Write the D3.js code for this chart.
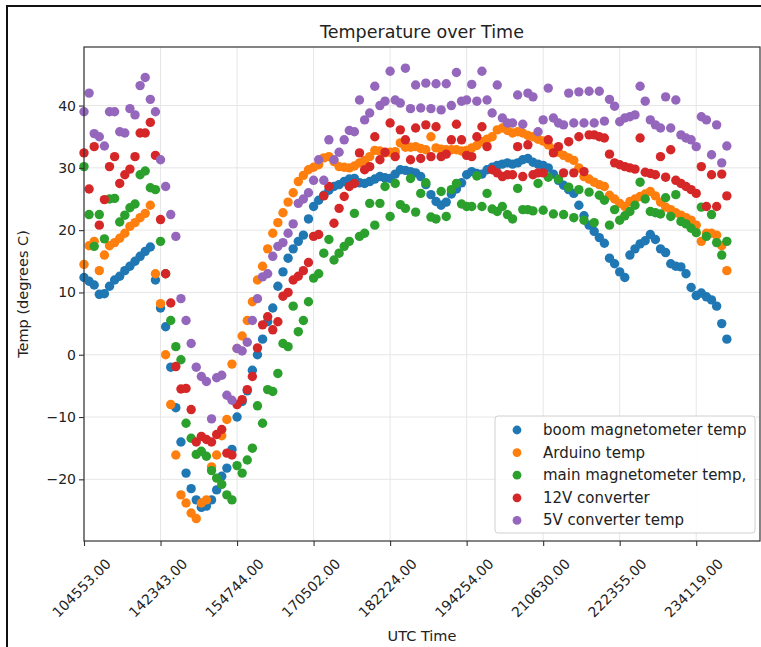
<!DOCTYPE html>
<meta charset="utf-8">
<style>
body { margin: 0; background: #fff; }
text { font-family: "DejaVu Sans", sans-serif; fill: #222; }
.grid line { stroke: #e6e6e6; stroke-width: 1; }
</style>
<body>
<svg width="761" height="647"></svg>
<script src="https://cdn.jsdelivr.net/npm/d3@7"></script>
<script>

// one sample every index, a tick label every 15th sample
var tickLabels = ["104553.00", "142343.00", "154744.00", "170502.00", "182224.00",
                  "194254.00", "210630.00", "222355.00", "234119.00"];
var tickEvery = 15;

var seriesNames = ["boom magnetometer temp", "Arduino temp", "main magnetometer temp,",
                   "12V converter", "5V converter temp"];
var seriesColors = ["#1f77b4", "#ff7f0e", "#2ca02c", "#d62728", "#9467bd"];

var boom = [
  12.4, 11.8, 11.2, 9.7, 9.8, 11, 12, 12.6, 13.5, 14.2,
  15, 15.8, 16.6, 17.3, 12, 7.5, 4.5, -2, -8.5, -14,
  -19, -21.5, -23.3, -24.5, -24.3, -23.3, -21.7, -19.5, -18.2, -15.2,
  -10, -7.5, -5.8, -2.5, 0, 2.5, 5.3, 7.5, 11, 13.3,
  15.5, 17, 18.2, 19.2, 21.8, 23.8, 24.8, 25.6, 26.4, 27,
  27.3, 27.8, 28.2, 28.3, 27.6, 27.5, 27.8, 28.2, 28.6, 28.4,
  28.3, 29, 29.7, 29.6, 29.4, 29.2, 28.6, 27.3, 25.7, 24.6,
  24, 24.5, 25.8, 26.6, 27.6, 28.9, 29.4, 29.1, 29, 29.7,
  30.1, 30.4, 30.6, 30.8, 30.6, 30.8, 31.3, 31.5, 30.9, 30.6,
  30.4, 30, 29, 28, 27.2, 26.5, 25.9, 24, 22.3, 20.8,
  19.8, 18.8, 17.9, 15.5, 14.6, 13.3, 12.4, 16, 17, 17.8,
  18.3, 19.3, 18.5, 17, 16.4, 14.6, 14.2, 14.1, 13, 10.8,
  9.5, 9.9, 9.3, 8.8, 7.8, 5, 2.5
];

var arduino = [
  14.5, 17.5, 18.2, 13.5, 16, 17.5, 18, 18.7, 19.5, 20.6,
  21.2, 22, 22.7, 24, 13, 8.2, 0, -8, -16.1, -22.5,
  -23.8, -25.4, -26.3, -23.8, -23.3, -18, -16.1, -13, -10.4, -1.5,
  1, 3, 5.5, 8.5, 12, 14.2, 17, 19.5, 21.2, 22.8,
  24.5, 26, 27.8, 28.8, 29.7, 30.1, 30.5, 31.6, 31.8, 31,
  30.2, 30.1, 30, 30.3, 30.8, 31.2, 31.8, 32.8, 32.7, 32.4,
  32.5, 32.6, 34, 33.3, 33.3, 33.4, 33.1, 32.9, 35, 33.2,
  33, 32.9, 32.9, 32.9, 32.7, 32.8, 33.2, 33.6, 34.2, 34.6,
  35, 36.1, 36.4, 36, 35.6, 35.8, 35.6, 35.2, 35, 34.6,
  34.3, 33.7, 33, 32.5, 32, 31.6, 31.2, 30, 28.6, 28.2,
  27.7, 27.3, 27, 25.6, 25, 24.3, 23.8, 24.6, 25, 25.4,
  25.8, 26.2, 25.5, 24.5, 23.7, 23.3, 22.8, 22.4, 22, 21.6,
  20.8, 18.2, 19.5, 19.5, 19.2, 17.5, 13.5
];

var mainMag = [
  30.2, 22.5, 17.4, 22.5, 18.6, 25, 25.1, 21.3, 22.4, 23.6,
  24.2, 28.9, 29.5, 26.8, 26.5, 18.2, 13, 5.5, 1.3, -0.8,
  -11, -13.4, -16, -15.5, -16.3, -18.6, -19.8, -20.8, -22.5, -23.3,
  -17.8, -19, -16.9, -15, -8.2, -11, -5.6, -5.9, -3, 1.8,
  1.3, 7.8, 3.7, 5.5, 8.5, 12.3, 13, 16.3, 18.5, 15.2,
  16.3, 17.4, 18.2, 22.7, 19, 19.5, 24.3, 20.8, 24.3, 27,
  22.2, 27.5, 24.1, 23.5, 28.3, 22.9, 25.9, 27.6, 22.1, 21.8,
  26.2, 22.2, 26.5, 27.5, 24.2, 23.8, 23.8, 28.7, 23.8, 25.9,
  23.4, 23, 23.8, 22.5, 21.8, 26.7, 23.3, 23.3, 23.1, 27.5,
  23.2, 28.5, 22.6, 28.2, 22.5, 26.9, 22, 26.5, 21.6, 26.1,
  21.2, 25.6, 24.8, 20.8, 23.3, 21.6, 22.3, 23, 24, 27.7,
  25, 23, 22.8, 22.6, 25.2, 22.2, 25.7, 21.4, 21, 20.3,
  19.6, 23.7, 19, 22.5, 18, 16, 18.2
];

var conv12 = [
  32.4, 26.6, 33.4, 20.8, 24.9, 30.2, 31.8, 27.5, 28.9, 29.8,
  31.8, 35.6, 35.6, 37.3, 32, 21.7, 13, 8.3, -1.9, -5.5,
  -5.4, -8.8, -14, -13.1, -13.6, -14, -12.8, -12, -15.8, -16.1,
  -8, -7.2, -5.6, -3.5, 1.1, 4.8, 6.1, 4, 5.3, 9.4,
  10, 12, 12.6, 13.5, 14.8, 19, 19.3, 25.5, 27, 21.1,
  23.5, 25.4, 27, 27.5, 32.4, 29.7, 30.2, 35, 31.3, 32.5,
  37.2, 31.8, 36.1, 34.5, 31.3, 36.4, 31.5, 36.9, 31.8, 36.6,
  31.8, 32.2, 34.5, 37, 34.5, 32, 31.8, 35, 36.6, 33.4,
  29.7, 29.2, 28.6, 28.9, 28.9, 33.4, 28.6, 33.7, 28.9, 29.2,
  29.2, 34.5, 32.4, 33.4, 29.2, 34.2, 29.2, 35, 29.4, 35.3,
  35.3, 35, 34.8, 32.2, 30.8, 30.5, 30.2, 30, 29.8, 34.8,
  29.3, 29.1, 28.9, 31.8, 28.5, 32.9, 28, 27.5, 27, 26.5,
  25.9, 30.2, 23.8, 28.9, 23.8, 29, 25.5
];

var conv5 = [
  39, 42, 35.5, 35, 33.5, 39, 39, 35.8, 35.6, 39.5,
  38.5, 43.2, 44.5, 41, 39, 31.3, 27, 22.5, 19, 9,
  5.5, 1.8, -2, -3.5, -4.3, -10.3, -3.7, -3.3, -6.5, -7.3,
  1, 0.6, 2, 5.5, 9, 12.5, 13, 15.8, 17.4, 18,
  19.5, 21, 24.3, 25, 26, 28, 31.3, 28, 34.5, 31.3,
  32.5, 34.5, 36, 35.8, 40.9, 37.7, 38.8, 43.1, 40, 40.7,
  45.5, 40.9, 40.4, 46, 39.5, 43.3, 39.6, 43.6, 39.5, 43.5,
  39.3, 43.5, 40, 45.3, 40.7, 40.9, 43.4, 40.7, 45.5, 40.9,
  38.8, 43.3, 38, 37.2, 37.2, 41.7, 37, 42, 41.4, 35.8,
  37.7, 42.8, 38, 37.2, 36.9, 42, 37.2, 42.2, 37.2, 42.3,
  37.2, 42.3, 37.5, 41, 39.9, 37.4, 38, 38.2, 38.5, 43.1,
  40.7, 37.7, 36.9, 36.4, 41.4, 36.4, 40.9, 35.3, 34.8, 34.5,
  33.4, 38.2, 37.7, 32.1, 36.9, 30.8, 33.5
];

var allSeries = [boom, arduino, mainMag, conv12, conv5];
var yTicks = [-20, -10, 0, 10, 20, 30, 40];

var svg = d3.select("svg");

var plotL = 84, plotR = 760, plotT = 47, plotB = 541;

var x = d3.scaleLinear().domain([0, 132.5]).range([plotL, plotR]);
var y = d3.scaleLinear().domain([-29.9, 49.4]).range([plotB, plotT]);

svg.append("rect")
    .attr("width", 761).attr("height", 647)
    .attr("fill", "#fff");

// outer figure border (cropped on the right and bottom)
svg.append("rect")
    .attr("x", 7).attr("y", 6)
    .attr("width", 800).attr("height", 700)
    .attr("fill", "none")
    .attr("stroke", "#111")
    .attr("stroke-width", 2);

var xTickIdx = tickLabels.map(function(d, i) { return i * tickEvery; });

var grid = svg.append("g").attr("class", "grid");
grid.selectAll(".gx")
  .data(xTickIdx)
  .enter().append("line")
    .attr("x1", function(d) { return x(d); })
    .attr("x2", function(d) { return x(d); })
    .attr("y1", plotT).attr("y2", plotB);
grid.selectAll(".gy")
  .data(yTicks)
  .enter().append("line")
    .attr("x1", plotL).attr("x2", plotR)
    .attr("y1", function(d) { return y(d); })
    .attr("y2", function(d) { return y(d); });

// points, first series at the bottom
allSeries.forEach(function(vals, k) {
  svg.append("g")
    .selectAll("circle")
    .data(vals)
    .enter().append("circle")
      .attr("cx", function(d, i) { return x(i); })
      .attr("cy", function(d) { return y(d); })
      .attr("r", 4.7)
      .attr("fill", seriesColors[k]);
});

// axes frame
svg.append("rect")
    .attr("x", plotL).attr("y", plotT)
    .attr("width", plotR - plotL).attr("height", plotB - plotT)
    .attr("fill", "none")
    .attr("stroke", "#333")
    .attr("stroke-width", 1.2);

var xAxis = svg.append("g")
    .attr("transform", "translate(0," + plotB + ")")
    .call(d3.axisBottom(x).tickValues(xTickIdx).tickSize(5).tickFormat(""));
xAxis.select(".domain").remove();
xAxis.selectAll("line").attr("stroke", "#333").attr("stroke-width", 1.1);

svg.append("g")
  .selectAll("text")
  .data(tickLabels)
  .enter().append("text")
    .attr("transform", function(d, i) {
      return "translate(" + (x(xTickIdx[i]) - 2.5) + ",588) rotate(-45)";
    })
    .attr("text-anchor", "middle")
    .attr("dominant-baseline", "central")
    .attr("font-size", 14)
    .text(function(d) { return d; });

var yAxis = svg.append("g")
    .attr("transform", "translate(" + plotL + ",0)")
    .call(d3.axisLeft(y).tickValues(yTicks).tickSize(5)
      .tickFormat(function(d) { return d < 0 ? "\u2212" + Math.abs(d) : d; }));
yAxis.select(".domain").remove();
yAxis.selectAll("line").attr("stroke", "#333").attr("stroke-width", 1.1);
yAxis.selectAll("text")
    .attr("x", -8)
    .attr("font-size", 14)
    .attr("font-family", "DejaVu Sans")
    .attr("fill", "#222");

svg.append("text")
    .attr("x", (plotL + plotR) / 2).attr("y", 38)
    .attr("text-anchor", "middle")
    .attr("font-size", 17.5)
    .text("Temperature over Time");

svg.append("text")
    .attr("x", (plotL + plotR) / 2).attr("y", 641)
    .attr("text-anchor", "middle")
    .attr("font-size", 14.5)
    .text("UTC Time");

svg.append("text")
    .attr("transform", "translate(28," + ((plotT + plotB) / 2) + ") rotate(-90)")
    .attr("text-anchor", "middle")
    .attr("font-size", 14.5)
    .text("Temp (degrees C)");

// legend
var legend = svg.append("g");
legend.append("rect")
    .attr("x", 495).attr("y", 416)
    .attr("width", 260).attr("height", 117)
    .attr("rx", 3)
    .attr("fill", "#fff").attr("fill-opacity", 0.85)
    .attr("stroke", "#d0d0d0");

var rows = legend.selectAll(".row")
  .data(seriesNames)
  .enter().append("g")
    .attr("transform", function(d, i) { return "translate(0," + (430 + i * 22.6) + ")"; });
rows.append("circle")
    .attr("cx", 517).attr("cy", 0).attr("r", 4.4)
    .attr("fill", function(d, i) { return seriesColors[i]; });
rows.append("text")
    .attr("x", 543).attr("y", 0)
    .attr("dominant-baseline", "central")
    .attr("font-size", 15)
    .text(function(d) { return d; });

</script>
</body>
